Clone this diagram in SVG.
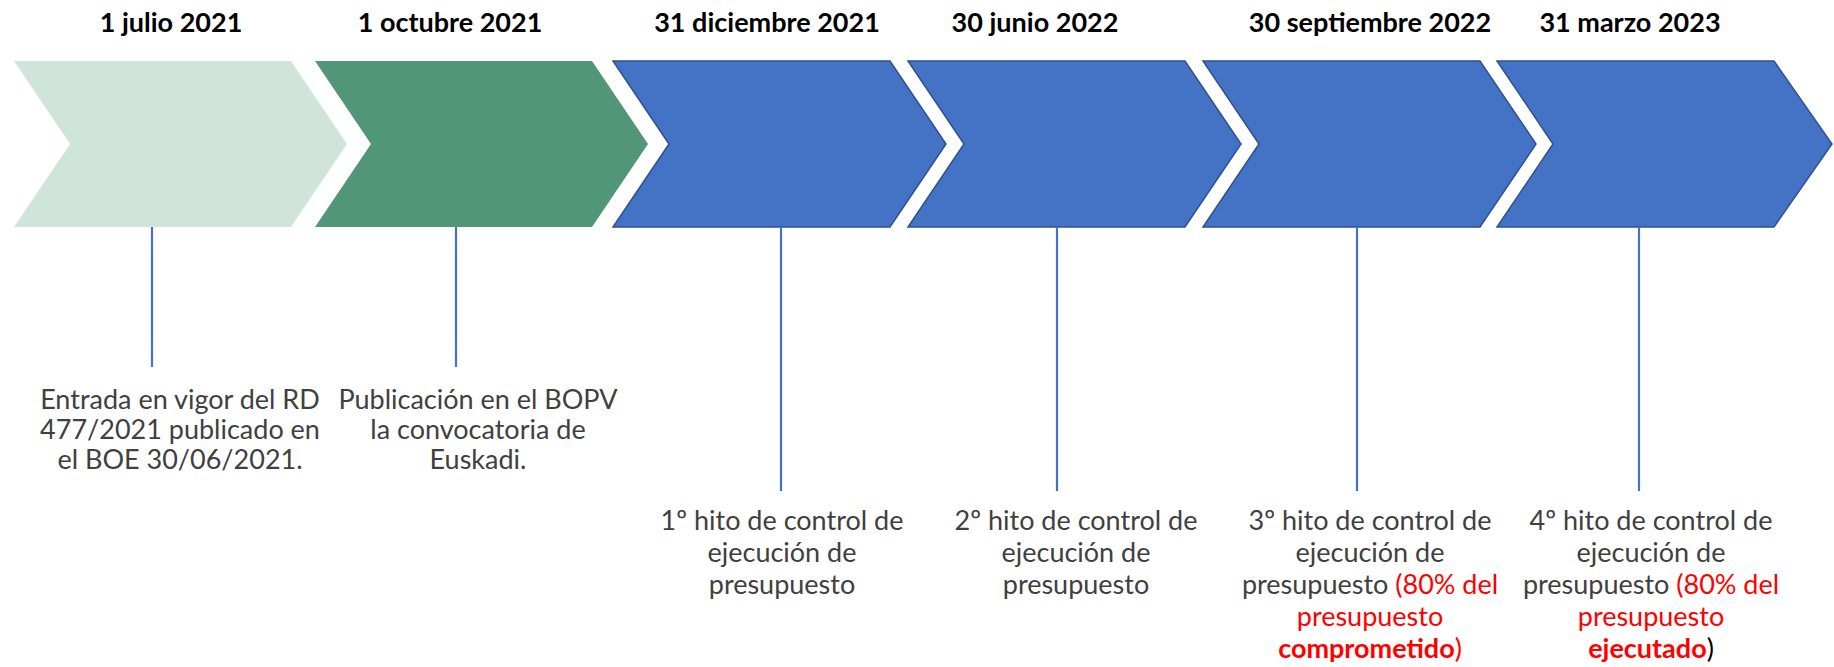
<svg xmlns="http://www.w3.org/2000/svg" width="1834" height="667" viewBox="0 0 1834 667">
<defs>
<style>
.date{font-family:Lato,"Liberation Sans",sans-serif;font-weight:bold;font-size:27px;fill:#000;text-anchor:middle}
.lbl{font-family:Lato,"Liberation Sans",sans-serif;font-size:27px;fill:#404040;text-anchor:middle}
.red{fill:#FF0000}
.blk{fill:#000}
.b{font-weight:bold}
.blue{fill:#4472C4;stroke:#2F528F;stroke-width:1.5}
.conn line{stroke:#4472C4;stroke-width:2.2}
</style>
</defs>
<rect width="1834" height="667" fill="#fff"/>
<g id="node1">
<polygon points="14,61 291,61 347,144 291,227 14,227 70,144" fill="#CFE5DC"/>
<text class="date" x="171" y="32">1 julio 2021</text>
<text class="lbl" x="180" y="409">Entrada en vigor del RD</text>
<text class="lbl" x="180" y="439">477/2021 publicado en</text>
<text class="lbl" x="180" y="469">el BOE 30/06/2021.</text>
</g>
<g id="node2">
<polygon points="315,61 592,61 648,144 592,227 315,227 371,144" fill="#52967A"/>
<text class="date" x="450" y="32">1 octubre 2021</text>
<text class="lbl" x="478" y="409">Publicación en el BOPV</text>
<text class="lbl" x="478" y="439">la convocatoria de</text>
<text class="lbl" x="478" y="469">Euskadi.</text>
</g>
<g id="node3">
<polygon class="blue" points="613,61 890,61 946,144 890,227 613,227 669,144"/>
<text class="date" x="767" y="32">31 diciembre 2021</text>
<text class="lbl" x="782" y="530">1º hito de control de</text>
<text class="lbl" x="782" y="562">ejecución de</text>
<text class="lbl" x="782" y="594">presupuesto</text>
</g>
<g id="node4">
<polygon class="blue" points="908,61 1185,61 1241,144 1185,227 908,227 964,144"/>
<text class="date" x="1035" y="32">30 junio 2022</text>
<text class="lbl" x="1076" y="530">2º hito de control de</text>
<text class="lbl" x="1076" y="562">ejecución de</text>
<text class="lbl" x="1076" y="594">presupuesto</text>
</g>
<g id="node5">
<polygon class="blue" points="1203,61 1480,61 1536,144 1480,227 1203,227 1259,144"/>
<text class="date" x="1370" y="32">30 septiembre 2022</text>
<text class="lbl" x="1370" y="530">3º hito de control de</text>
<text class="lbl" x="1370" y="562">ejecución de</text>
<text class="lbl" x="1370" y="594">presupuesto <tspan class="red">(80% del</tspan></text>
<text class="lbl red" x="1370" y="626">presupuesto</text>
<text class="lbl red" x="1370" y="658"><tspan class="b">comprometido</tspan>)</text>
</g>
<g id="node6">
<polygon class="blue" points="1497,61 1774,61 1832,144 1774,227 1497,227 1553,144"/>
<text class="date" x="1630" y="32">31 marzo 2023</text>
<text class="lbl" x="1651" y="530">4º hito de control de</text>
<text class="lbl" x="1651" y="562">ejecución de</text>
<text class="lbl" x="1651" y="594">presupuesto <tspan class="red">(80% del</tspan></text>
<text class="lbl red" x="1651" y="626">presupuesto</text>
<text class="lbl" x="1651" y="658"><tspan class="red b">ejecutado</tspan><tspan class="blk">)</tspan></text>
</g>
<g id="connectors" class="conn">
<line x1="152" y1="227" x2="152" y2="367"/>
<line x1="456" y1="227" x2="456" y2="367"/>
<line x1="781" y1="228" x2="781" y2="491"/>
<line x1="1057" y1="228" x2="1057" y2="491"/>
<line x1="1357" y1="228" x2="1357" y2="491"/>
<line x1="1639" y1="228" x2="1639" y2="491"/>
</g>
</svg>
